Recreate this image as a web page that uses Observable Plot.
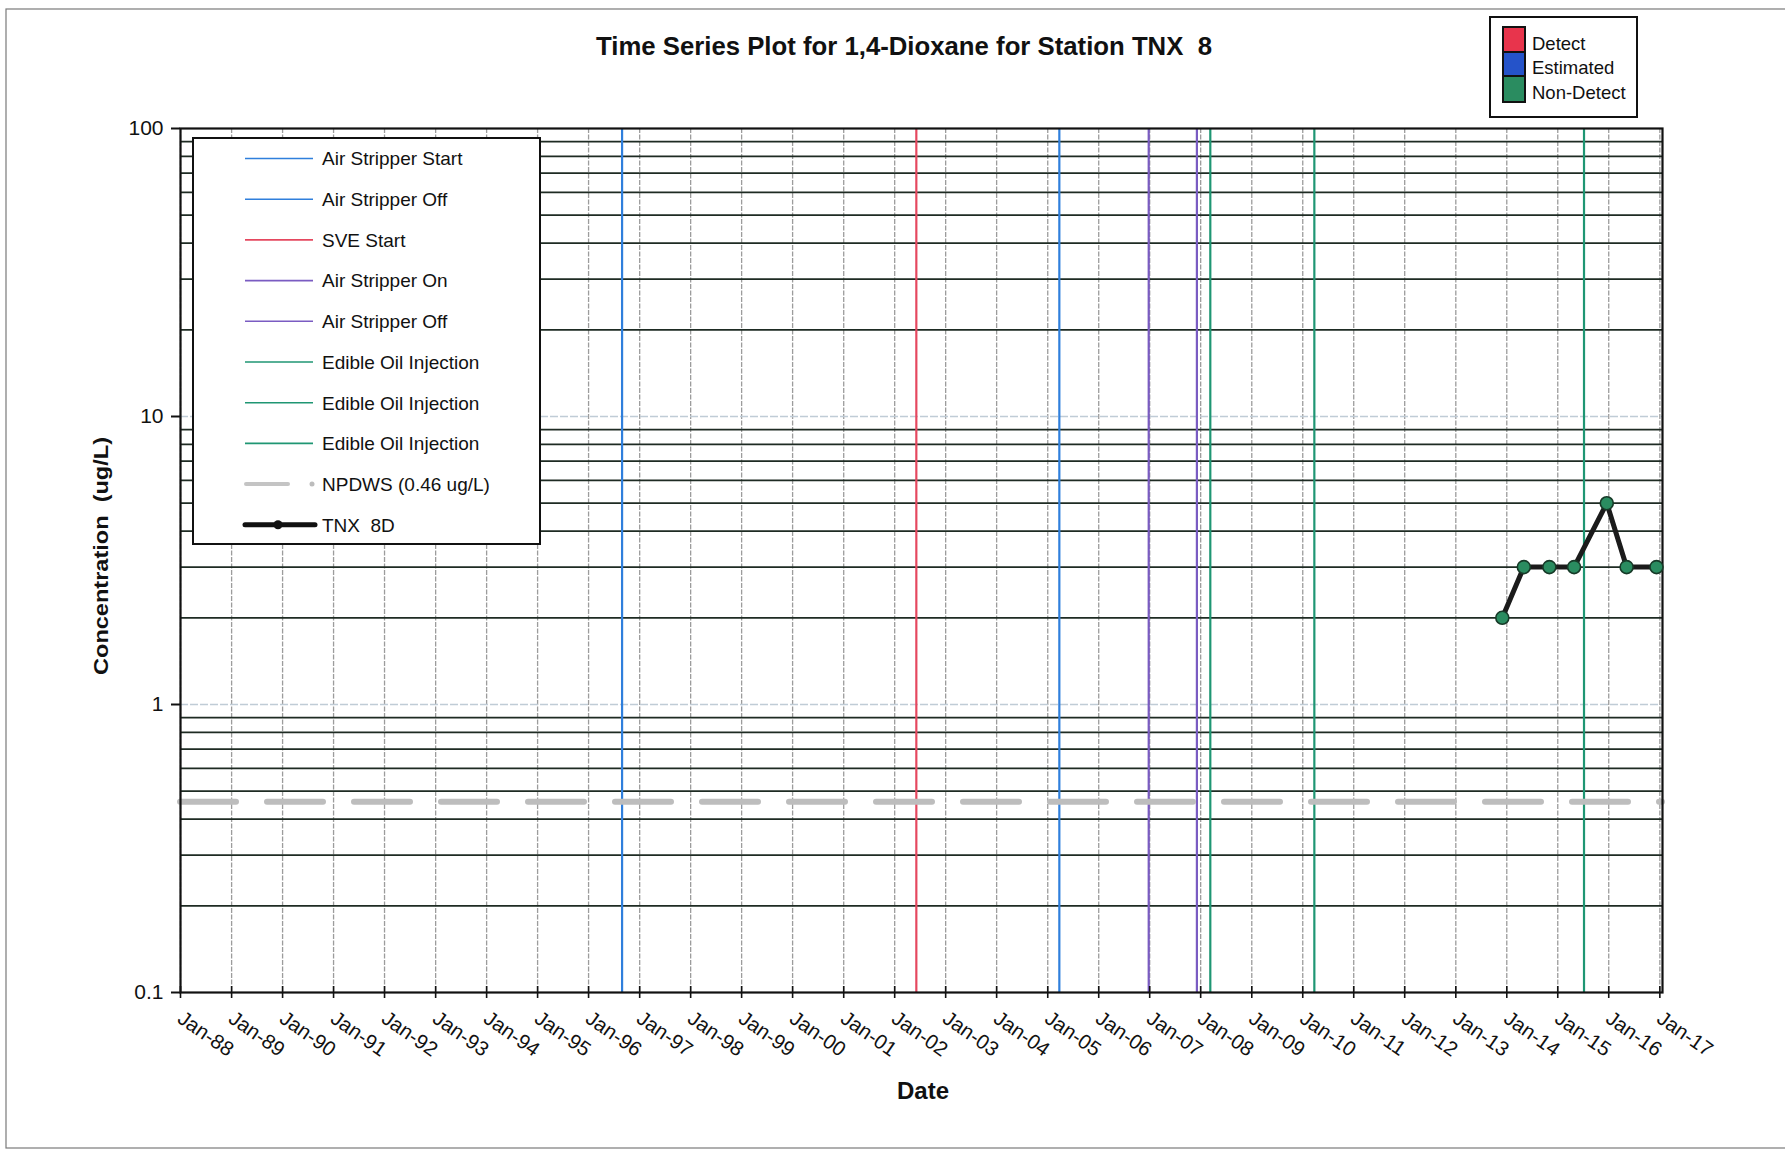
<!DOCTYPE html>
<html>
<head>
<meta charset="utf-8">
<script src="https://cdn.jsdelivr.net/npm/d3@7"></script>
<script src="https://cdn.jsdelivr.net/npm/@observablehq/plot@0.6"></script>
<style>
  html, body { margin: 0; padding: 0; background: #fff; overflow: hidden; }
  svg { display: block; }
</style>
</head>
<body>
<div id="chart"></div>
<script>
// ---------------- data ----------------
const sampleDates = ["2013-11-30", "2014-05-03", "2014-11-02", "2015-04-28", "2015-12-18", "2016-05-08", "2016-12-08"];
const concentrations = [2, 3, 3, 3, 5, 3, 3];
const qualifiers = ["Non-Detect", "Non-Detect", "Non-Detect", "Non-Detect", "Non-Detect", "Non-Detect", "Non-Detect"];

const eventDates = ["1996-08-28", "2005-03-25", "2002-06-05", "2006-12-25", "2007-12-05", "2008-03-10", "2010-03-25", "2015-07-08"];
const eventLabels = ["Air Stripper Start", "Air Stripper Off", "SVE Start", "Air Stripper On", "Air Stripper Off",
                     "Edible Oil Injection", "Edible Oil Injection", "Edible Oil Injection"];
const eventColors = ["#2f7fdc", "#2f7fdc", "#e5485f", "#7a5cc2", "#7a5cc2", "#1f9673", "#1f9673", "#1f9673"];

const npdwsValue = 0.46;
const npdwsLabel = "NPDWS (0.46 ug/L)";
const seriesLabel = "TNX  8D";

const yTicks = [0.1, 1, 10, 100];
const yTickLabels = ["0.1", "1", "10", "100"];
const yMajorGrid = [1, 10];
const yMinorGrid = [0.2, 0.3, 0.4, 0.5, 0.6, 0.7, 0.8, 0.9, 2, 3, 4, 5, 6, 7, 8, 9, 20, 30, 40, 50, 60, 70, 80, 90];

const tickYears = [1988, 1989, 1990, 1991, 1992, 1993, 1994, 1995, 1996, 1997, 1998, 1999, 2000, 2001, 2002,
                   2003, 2004, 2005, 2006, 2007, 2008, 2009, 2010, 2011, 2012, 2013, 2014, 2015, 2016, 2017];
const tickLabels = ["Jan-88", "Jan-89", "Jan-90", "Jan-91", "Jan-92", "Jan-93", "Jan-94", "Jan-95", "Jan-96", "Jan-97",
                    "Jan-98", "Jan-99", "Jan-00", "Jan-01", "Jan-02", "Jan-03", "Jan-04", "Jan-05", "Jan-06", "Jan-07",
                    "Jan-08", "Jan-09", "Jan-10", "Jan-11", "Jan-12", "Jan-13", "Jan-14", "Jan-15", "Jan-16", "Jan-17"];

const qualCategories = ["Detect", "Estimated", "Non-Detect"];
const qualColors = ["#e8344c", "#2553c9", "#2a8c60"];

const titleText = "Time Series Plot for 1,4-Dioxane for Station TNX  8";
const yTitle = "Concentration  (ug/L)";
const xTitle = "Date";

// ---------------- tables ----------------
const parse = d3.utcParse("%Y-%m-%d");
const qualColor = Object.fromEntries(qualCategories.map((q, i) => [q, qualColors[i]]));
const samples = sampleDates.map((d, i) => ({date: parse(d), value: concentrations[i], qual: qualifiers[i]}));
const events = eventDates.map((d, i) => ({date: parse(d), label: eventLabels[i], color: eventColors[i]}));
const xTicks = tickYears.map((y, i) => ({date: new Date(Date.UTC(y, 0, 1)), label: tickLabels[i]}));

const W = 1785, H = 1151;
const sans = "'Liberation Sans', Arial, Helvetica, sans-serif";
const narrow = "'Liberation Sans Narrow', 'Arial Narrow', 'Liberation Sans', Arial, sans-serif";

const chart = Plot.plot({
  width: W,
  height: H,
  marginLeft: 180,
  marginRight: 123,
  marginTop: 128,
  marginBottom: 159,
  style: {fontFamily: sans, background: "white", color: "#111"},
  x: {type: "utc", domain: [parse("1988-01-01"), parse("2017-01-20")], axis: null},
  y: {type: "log", domain: [0.1, 100], axis: null},
  color: {type: "identity"},
  marks: [
    // year grid
    Plot.ruleX(xTicks, {x: "date", stroke: "#9c9c9c", strokeWidth: 1.3, strokeDasharray: "5,1.5"}),
    // minor log grid (dark) and major (light)
    Plot.ruleY(yMinorGrid, {stroke: "#1e2b23", strokeWidth: 1.8}),
    Plot.ruleY(yMajorGrid, {stroke: "#c0ccd6", strokeWidth: 1.6, strokeDasharray: "8,2"}),
    // event lines
    Plot.ruleX(events, {x: "date", stroke: "color", strokeWidth: 2.2}),
    // NPDWS
    Plot.ruleY([npdwsValue], {stroke: "#bdbdbd", strokeWidth: 6, strokeDasharray: "56,31", strokeLinecap: "round"}),
    // frame + axes
    Plot.frame({stroke: "#111", strokeWidth: 2.2}),
    Plot.axisY({ticks: yTicks, tickFormat: d => yTickLabels[yTicks.indexOf(d)], tickSize: 9, tickPadding: 8,
                fontSize: 21, strokeWidth: 2, stroke: "#111", label: null}),
    Plot.axisX({ticks: xTicks.map(d => d.date), tickFormat: () => "", tickSize: 12, dy: -6,
                strokeWidth: 1.6, stroke: "#111", label: null}),
    Plot.text(xTicks, {x: "date", frameAnchor: "bottom", text: "label", rotate: 35, textAnchor: "start",
                       lineAnchor: "top", dx: 4, dy: 17, fontSize: 20.5, fill: "#111"}),
    // series
    Plot.line(samples, {x: "date", y: "value", stroke: "#1b1b1b", strokeWidth: 5, strokeLinejoin: "round"}),
    Plot.dot(samples, {x: "date", y: "value", r: 6.5, fill: d => qualColor[d.qual], stroke: "#173a28", strokeWidth: 1.6})
  ]
});

document.getElementById("chart").appendChild(chart);

// ---------------- annotations (layout) ----------------
const svg = d3.select(chart);

// page border
svg.insert("rect", ":first-child")
  .attr("x", 6).attr("y", 9).attr("width", W).attr("height", 1139)
  .attr("fill", "none").attr("stroke", "#7a7a7a").attr("stroke-width", 1.2);

// title
svg.append("text")
  .attr("x", 904).attr("y", 55).attr("text-anchor", "middle")
  .attr("textLength", 616).attr("lengthAdjust", "spacingAndGlyphs")
  .style("font", `bold 25px ${narrow}`).attr("fill", "#111")
  .text(titleText);

// y title
svg.append("text")
  .attr("transform", "translate(108,556) rotate(-90)")
  .attr("text-anchor", "middle")
  .attr("textLength", 238).attr("lengthAdjust", "spacingAndGlyphs")
  .style("font", `bold 21px ${narrow}`).attr("fill", "#111")
  .text(yTitle);

// x title
svg.append("text")
  .attr("x", 923).attr("y", 1099).attr("text-anchor", "middle")
  .style("font", `bold 24px ${sans}`).attr("fill", "#111")
  .text(xTitle);

// ---- legend box inside plot ----
const lg = svg.append("g").attr("text-anchor", "start");
lg.append("rect").attr("x", 193).attr("y", 138).attr("width", 347).attr("height", 406)
  .attr("fill", "white").attr("stroke", "#111").attr("stroke-width", 2);
const rowY = i => 158.5 + i * 40.7;
events.forEach((e, i) => {
  lg.append("line").attr("x1", 245).attr("x2", 313).attr("y1", rowY(i)).attr("y2", rowY(i))
    .attr("stroke", e.color).attr("stroke-width", 1.6);
  lg.append("text").attr("x", 322).attr("y", rowY(i)).attr("dy", "0.36em").attr("text-anchor", "start")
    .style("font", `19px ${sans}`).attr("fill", "#111").text(e.label);
});
{
  const i = events.length;
  lg.append("line").attr("x1", 246).attr("x2", 288).attr("y1", rowY(i)).attr("y2", rowY(i))
    .attr("stroke", "#c4c4c4").attr("stroke-width", 4).attr("stroke-linecap", "round");
  lg.append("circle").attr("cx", 312).attr("cy", rowY(i)).attr("r", 2.5).attr("fill", "#bcbcbc");
  lg.append("text").attr("x", 322).attr("y", rowY(i)).attr("dy", "0.36em").attr("text-anchor", "start")
    .style("font", `19px ${sans}`).attr("fill", "#111").text(npdwsLabel);
  const j = i + 1;
  lg.append("line").attr("x1", 245).attr("x2", 315).attr("y1", rowY(j)).attr("y2", rowY(j))
    .attr("stroke", "#111").attr("stroke-width", 5).attr("stroke-linecap", "round");
  lg.append("circle").attr("cx", 278).attr("cy", rowY(j)).attr("r", 4.5).attr("fill", "#111");
  lg.append("text").attr("x", 322).attr("y", rowY(j)).attr("dy", "0.36em").attr("text-anchor", "start")
    .style("font", `19px ${sans}`).attr("fill", "#111").text(seriesLabel);
}

// ---- qualifier legend (top right) ----
const ql = svg.append("g").attr("text-anchor", "start");
ql.append("rect").attr("x", 1490).attr("y", 17).attr("width", 147).attr("height", 100)
  .attr("fill", "white").attr("stroke", "#111").attr("stroke-width", 2);
const qRows = [[27, 25], [52, 24], [76, 26]];
qualCategories.forEach((q, i) => {
  ql.append("rect").attr("x", 1503).attr("y", qRows[i][0]).attr("width", 22).attr("height", qRows[i][1])
    .attr("fill", qualColors[i]).attr("stroke", "#111").attr("stroke-width", 2);
  ql.append("text").attr("x", 1532).attr("y", qRows[i][0] + qRows[i][1] / 2 + 3.5).attr("dy", "0.36em")
    .attr("text-anchor", "start")
    .style("font", `18.5px ${sans}`).attr("fill", "#111").text(q);
});
</script>
</body>
</html>
